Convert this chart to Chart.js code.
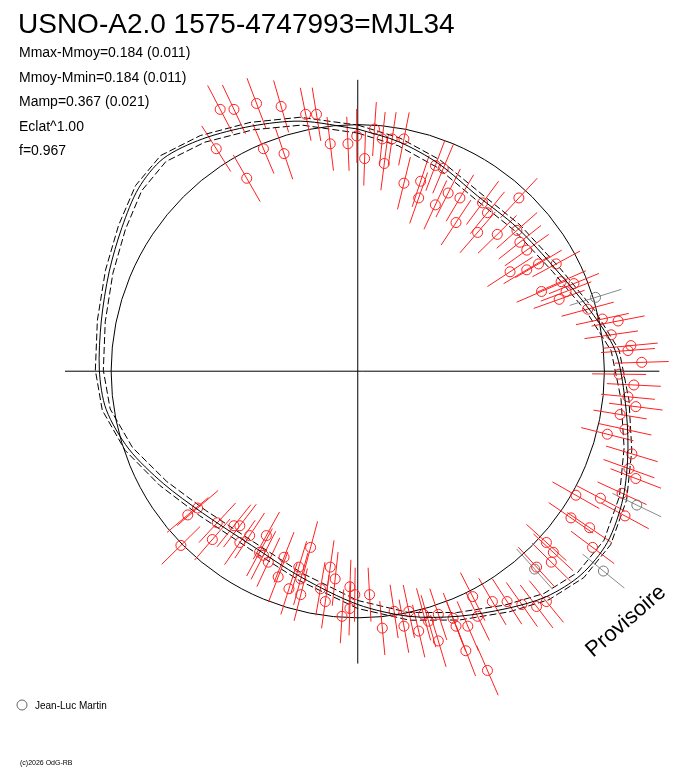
<!DOCTYPE html>
<html>
<head>
<meta charset="utf-8">
<script src="https://cdn.jsdelivr.net/npm/chart.js@4/dist/chart.umd.min.js"></script>
<style>
  body { margin: 0; background: #fff; }
  #wrap { position: relative; width: 688px; height: 768px; }
</style>
</head>
<body>
<div id="wrap"><canvas id="chart" width="688" height="768"></canvas></div>
<script>
// plot units: x to the right, y downwards, origin at top-left of the figure
const center = [358, 371];
const refRadius = 251;

const obsX = [218,232,255,280,305,316,214,245,262,283,330,348,357,365,375,383,393,405,385,405,422,437,445,420,437,450,462,458,480,485,490,500,513,522,520,523,530,530,542,545,560,565,570,563,578,592,607,616,623,636,633,647,624,639,633,641,625,612,630,637,634,641,627,605,630,580,594,575,557,550,555,597,540,550,540,525,510,495,475,480,470,455,440,430,420,410,405,383,395,370,355,350,342,335,330,350,320,310,300,288,298,283,267,265,258,248,238,238,232,210,215,195,185,178,440,458,468,490,425,300,277,262,325];
const obsY = [105,105,99,102,110,110,145,175,145,150,140,140,132,155,125,135,135,135,160,180,178,162,165,195,202,190,195,220,230,200,210,232,270,195,228,240,248,268,262,290,262,280,290,298,282,308,318,334,320,345,350,362,374,385,397,407,415,435,430,455,470,480,495,500,518,497,530,520,555,545,565,550,570,605,610,608,605,605,600,620,630,622,618,625,635,615,630,632,615,598,598,612,620,582,570,590,592,550,582,592,570,560,565,538,555,538,545,528,528,542,525,510,517,548,645,630,655,675,618,598,580,558,605];

// other observations (grey)
const greyX = [538,608,642,600];
const greyY = [572,574,507,296];

// fitted light curve
const curveX = [358,400,440,480,520,560,595,620,630,633,628,612,585,550,510,460,410,358,300,250,200,160,125,102,95,97,105,118,135,160,200,250,300,358];
const curveY = [125,138,160,193,225,268,310,350,400,450,500,545,578,600,612,620,620,608,580,548,515,485,450,410,370,320,270,225,185,155,135,122,117,125];

const toPts = (xs, ys) => xs.map((x, i) => ({x: x, y: ys[i]}));

const overlay = {
    id: 'overlay',
    beforeDatasetsDraw(chart) {
        const ctx = chart.ctx, sx = chart.scales.x, sy = chart.scales.y;
        const cx = sx.getPixelForValue(center[0]), cy = sy.getPixelForValue(center[1]);
        ctx.save();
        ctx.strokeStyle = '#000';
        ctx.lineWidth = 1;
        // axes cross
        ctx.beginPath();
        ctx.moveTo(sx.getPixelForValue(60), cy); ctx.lineTo(sx.getPixelForValue(665), cy);
        ctx.moveTo(cx, sy.getPixelForValue(75)); ctx.lineTo(cx, sy.getPixelForValue(668));
        ctx.stroke();
        // reference circle
        const r = sx.getPixelForValue(center[0] + refRadius) - cx;
        ctx.beginPath(); ctx.arc(cx, cy, r, 0, Math.PI * 2); ctx.stroke();
        // dashed companions of the curve, a few pixels either side
        const meta = chart.getDatasetMeta(0);
        [-4, 4].forEach(off => {
            ctx.setLineDash([7, 3]);
            ctx.beginPath();
            meta.data.forEach((p, i) => {
                const dx = p.x - cx, dy = p.y - cy, d = Math.hypot(dx, dy) || 1;
                const x = p.x + dx / d * off, y = p.y + dy / d * off;
                i ? ctx.lineTo(x, y) : ctx.moveTo(x, y);
            });
            ctx.stroke();
        });
        ctx.setLineDash([]);
        // radial error bars
        const bars = (idx, col) => {
            ctx.strokeStyle = col;
            chart.getDatasetMeta(idx).data.forEach(p => {
                const dx = p.x - cx, dy = p.y - cy, d = Math.hypot(dx, dy) || 1;
                const ux = dx / d * 27, uy = dy / d * 27;
                ctx.beginPath();
                ctx.moveTo(p.x - ux, p.y - uy); ctx.lineTo(p.x + ux, p.y + uy);
                ctx.stroke();
            });
        };
        bars(1, '#ff2020');
        bars(2, '#8a8a8a');
        ctx.restore();
    },
    afterDraw(chart) {
        const ctx = chart.ctx;
        ctx.save();
        ctx.fillStyle = '#000';
        ctx.textBaseline = 'alphabetic';
        ctx.font = '28px "Liberation Sans", Arial, sans-serif';
        ctx.fillText('USNO-A2.0 1575-4747993=MJL34', 18, 33);
        ctx.font = '14px "Liberation Sans", Arial, sans-serif';
        ['Mmax-Mmoy=0.184 (0.011)', 'Mmoy-Mmin=0.184 (0.011)', 'Mamp=0.367 (0.021)', 'Eclat^1.00', 'f=0.967']
            .forEach((t, i) => ctx.fillText(t, 19, 57 + i * 24.5));
        ctx.font = '10px "Liberation Sans", Arial, sans-serif';
        ctx.fillText('Jean-Luc Martin', 35, 709);
        ctx.strokeStyle = '#666';
        ctx.beginPath(); ctx.arc(22, 705, 5, 0, Math.PI * 2); ctx.stroke();
        ctx.font = '7px "Liberation Sans", Arial, sans-serif';
        ctx.fillText('(c)2026 OdG-RB', 20, 765);
        ctx.translate(593, 658);
        ctx.rotate(-Math.PI / 4.4);
        ctx.font = '22px "Liberation Sans", Arial, sans-serif';
        ctx.fillText('Provisoire', 0, 0);
        ctx.restore();
    }
};

new Chart(document.getElementById('chart'), {
    type: 'scatter',
    data: {
        datasets: [{
            data: toPts(curveX, curveY),
            showLine: true,
            tension: 0.3,
            borderColor: '#000',
            borderWidth: 1,
            pointRadius: 0
        }, {
            data: toPts(obsX, obsY),
            pointRadius: 5,
            pointBorderColor: '#ff2020',
            pointBackgroundColor: 'rgba(0,0,0,0)',
            pointBorderWidth: 1
        }, {
            data: toPts(greyX, greyY),
            pointRadius: 5,
            pointBorderColor: '#777',
            pointBackgroundColor: 'rgba(0,0,0,0)',
            pointBorderWidth: 1
        }]
    },
    options: {
        responsive: false,
        animation: false,
        devicePixelRatio: 1,
        layout: { padding: 0 },
        plugins: { legend: { display: false }, tooltip: { enabled: false } },
        scales: {
            x: { type: 'linear', min: 0, max: 688, display: false },
            y: { type: 'linear', min: 0, max: 768, reverse: true, display: false }
        }
    },
    plugins: [overlay]
});
</script>
</body>
</html>
